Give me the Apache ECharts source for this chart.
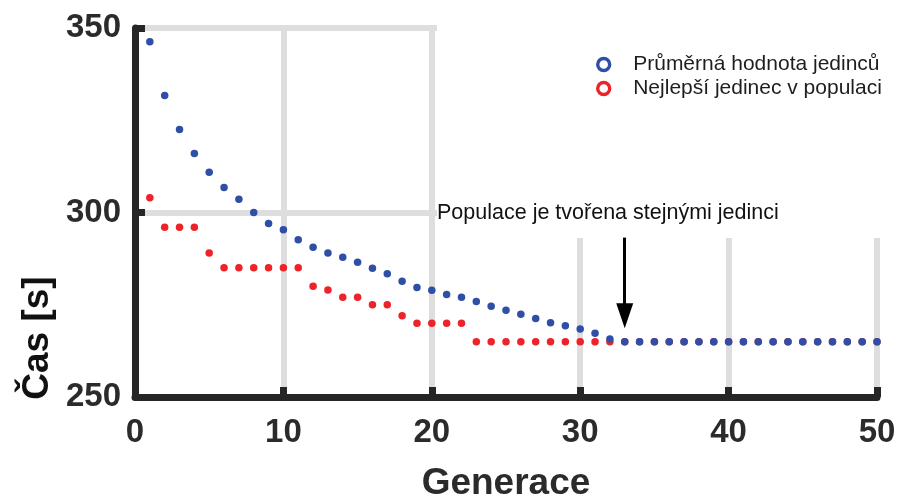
<!DOCTYPE html>
<html>
<head>
<meta charset="utf-8">
<script src="https://cdn.jsdelivr.net/npm/echarts@6/dist/echarts.min.js"></script>
<style>html,body{margin:0;padding:0;background:#fff}#c{width:899px;height:497px}</style>
</head>
<body>
<div id="c"></div>
<script>
const generations = Array.from({length: 50}, (_, i) => i + 1);
const averageValues = [346.3, 331.7, 322.5, 316, 310.9, 306.8, 303.6, 300, 297, 295.3,
  292.6, 290.6, 289, 287.9, 286.5, 284.9, 283.4, 281.4, 279.7, 278.9,
  277.8, 277, 275.9, 274.6, 273.5, 272.4, 271.3, 270.1, 269.3, 268.4,
  267.3, 265.7, 265, 265, 265, 265, 265, 265, 265, 265,
  265, 265, 265, 265, 265, 265, 265, 265, 265, 265];
const bestValues = [304, 296, 296, 296, 289, 285, 285, 285, 285, 285,
  285, 280, 279, 277, 277, 275, 275, 272, 270, 270,
  270, 270, 265, 265, 265, 265, 265, 265, 265, 265,
  265, 265, 265, 265, 265, 265, 265, 265, 265, 265,
  265, 265, 265, 265, 265, 265, 265, 265, 265, 265];
const seriesNames = ['Průměrná hodnota jedinců', 'Nejlepší jedinec v populaci'];
const xTitle = 'Generace';
const yTitle = 'Čas [s]';
const annotationText = 'Populace je tvořena stejnými jedinci';
const arrowFrom = [33, 293.2];
const arrowTo = [33, 273];
const arrowHead = [33, 272];

const BLUE = '#2f4ea6';
const RED = '#ee2229';
const FONT = "'Liberation Sans', Arial, sans-serif";

const chart = echarts.init(document.getElementById('c'), null, {renderer: 'canvas'});
const axisColor = '#262626';
chart.setOption({
  animation: false,
  textStyle: {fontFamily: FONT},
  grid: {left: 135, right: 22, top: 28, bottom: 100, containLabel: false, outerBoundsMode: 'none'},
  xAxis: {
    type: 'value', min: 0, max: 50, interval: 10,
    name: xTitle, nameLocation: 'middle', nameGap: 68,
    nameTextStyle: {fontSize: 37, fontWeight: 'bold', color: '#2b2b2b', fontFamily: FONT},
    axisLine: {lineStyle: {color: axisColor, width: 7}},
    axisTick: {inside: true, length: 10, lineStyle: {color: axisColor, width: 7}},
    axisLabel: {fontSize: 33, fontWeight: 'bold', color: '#2b2b2b', margin: 19, fontFamily: FONT},
    splitLine: {show: true, lineStyle: {color: '#dedede', width: 6}}
  },
  yAxis: {
    type: 'value', min: 250, max: 350, interval: 50,
    axisLine: {show: true, lineStyle: {color: axisColor, width: 7}},
    axisTick: {show: true, inside: true, length: 10, lineStyle: {color: axisColor, width: 7}},
    axisLabel: {fontSize: 33, fontWeight: 'bold', color: '#2b2b2b', margin: 14, padding: [9, 0, 0, 0], fontFamily: FONT},
    splitLine: {show: true, lineStyle: {color: '#dedede', width: 6}}
  },
  legend: {
    orient: 'vertical', left: 591, top: 49, itemWidth: 13, itemHeight: 12, itemGap: 3,
    textStyle: {fontSize: 21, color: '#1e1e1e', fontFamily: FONT, padding: [0, 0, 0, 18]},
    data: [
      {name: seriesNames[0], icon: 'circle', itemStyle: {color: '#fff', borderColor: BLUE, borderWidth: 3.4}},
      {name: seriesNames[1], icon: 'circle', itemStyle: {color: '#fff', borderColor: RED, borderWidth: 3.4}}
    ]
  },
  graphic: [
    {type: 'rect', z: 1, shape: {x: 437, y: 0, width: 462, height: 238}, style: {fill: '#fff'}},
    {type: 'text', z: 10, x: 437, y: 213, style: {text: annotationText, font: '21.5px ' + FONT, fill: '#111', textVerticalAlign: 'middle'}},
    {type: 'text', z: 10, x: 38, y: 338, rotation: Math.PI / 2,
      style: {text: yTitle, font: 'bold 37px ' + FONT, fill: '#111', textAlign: 'center', textVerticalAlign: 'middle'}}
  ],
  series: [
    {
      name: seriesNames[1], type: 'scatter', z: 3, symbolSize: 7.5,
      itemStyle: {color: RED, opacity: 1},
      data: generations.map((g, i) => [g, bestValues[i]])
    },
    {
      name: seriesNames[0], type: 'scatter', z: 4, symbolSize: 7.5,
      itemStyle: {color: BLUE, opacity: 1},
      data: generations.map((g, i) => [g, averageValues[i]]),
      markLine: {
        silent: true, animation: false,
        symbol: ['none', 'none'],
        lineStyle: {color: '#000', width: 3, type: 'solid'},
        label: {show: false},
        data: [[{coord: arrowFrom}, {coord: arrowTo}]]
      },
      markPoint: {
        silent: true, animation: false,
        symbol: 'triangle', symbolSize: [17, 25], symbolRotate: 180,
        itemStyle: {color: '#000'},
        label: {show: false},
        data: [{coord: arrowHead}]
      }
    }
  ]
});
</script>
</body>
</html>
